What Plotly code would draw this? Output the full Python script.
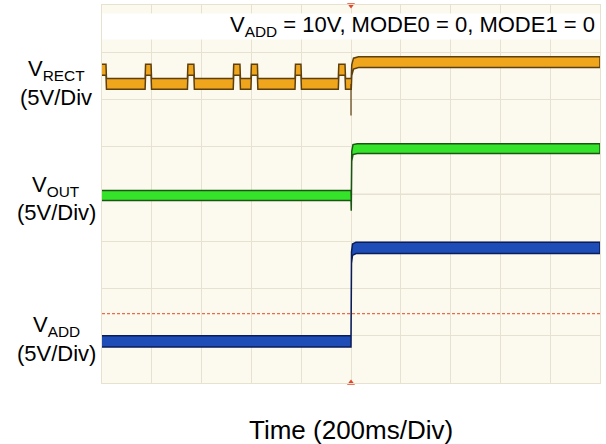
import plotly.graph_objects as go

# ---- data (time in ms at 200 ms/div, levels in screen divisions) ----
t_end = 2000
t_switch = 1000

# V_RECT (orange)
rect_low = 2.33
rect_pulse = 2.63
rect_pulse_start = [0, 173, 343, 527, 598, 775, 949]
rect_pulse_end = [16, 197, 369, 554, 624, 799, 976]
rect_spike_min = 1.66
rect_rise_t = [1001, 1003, 1010, 1030]
rect_rise_v = [2.33, 2.62, 2.76, 2.79]

# V_OUT (green)
out_low = -0.03
out_rise_t = [1000, 1001, 1003, 1008, 1025]
out_rise_v = [-0.03, -0.25, 0.80, 0.94, 0.96]

# V_ADD (blue)
add_low = -3.12
add_rise_t = [1000, 1002, 1006, 1020]
add_rise_v = [-3.12, -1.35, -1.18, -1.14]

trigger_level = -2.53

# ---- build step breakpoints ----
edge = 2
rt, rv = [], []
for s, e in zip(rect_pulse_start, rect_pulse_end):
    if s > 0:
        rt += [s, s + edge]
        rv += [rect_low, rect_pulse]
    else:
        rt += [s]
        rv += [rect_pulse]
    rt += [e, e + edge]
    rv += [rect_pulse, rect_low]
rt += [t_switch] + rect_rise_t + [t_end]
rv += [rect_low] + rect_rise_v + [rect_rise_v[-1]]

ot = [0] + out_rise_t + [t_end]
ov = [out_low] + out_rise_v + [out_rise_v[-1]]

at = [0] + add_rise_t + [t_end]
av = [add_low] + add_rise_v + [add_rise_v[-1]]


def band(t, v, h):
    xs = list(t) + list(t)[::-1]
    ys = [y + h for y in v] + [y - h for y in v][::-1]
    return xs, ys


fig = go.Figure()

grid_c = "#E7E2D0"

for (t, v, fillc, edgec, h) in [
    (rt, rv, "#EFA61C", "#5E3F0E", 0.115),
    (ot, ov, "#35E32B", "#1B5512", 0.105),
    (at, av, "#1E4DB8", "#0A1D58", 0.12),
]:
    xs, ys = band(t, v, h)
    fig.add_trace(go.Scatter(x=xs, y=ys, mode="lines", fill="toself",
                             fillcolor=fillc, line=dict(color=edgec, width=1.5),
                             hoverinfo="skip", showlegend=False))

# spike on V_RECT at switch
fig.add_trace(go.Scatter(x=[t_switch, t_switch], y=[rect_low, rect_spike_min],
                         mode="lines", line=dict(color="#5E3F0E", width=1.2),
                         showlegend=False, hoverinfo="skip"))

# trigger level (dashed)
fig.add_trace(go.Scatter(x=[0, t_end], y=[trigger_level, trigger_level],
                         mode="lines", line=dict(color="#F06A48", width=1.2, dash="3px,2px"),
                         showlegend=False, hoverinfo="skip"))

# trigger position markers
fig.add_trace(go.Scatter(x=[t_switch, t_switch], y=[4, -4], mode="markers",
                         marker=dict(symbol=["triangle-down", "triangle-up"], size=7,
                                     color="#E2452A"),
                         cliponaxis=False, showlegend=False, hoverinfo="skip"))

font = "Liberation Sans, Arial, sans-serif"

fig.update_layout(
    width=606, height=444,
    margin=dict(l=102, r=6, t=5, b=61),
    paper_bgcolor="white",
    plot_bgcolor="#FCF9EE",
    font=dict(family=font, color="black"),
    xaxis=dict(range=[0, t_end], dtick=200, tick0=0, showgrid=True, gridcolor=grid_c,
               gridwidth=1, zeroline=False, showticklabels=False, ticks="",
               showline=True, linecolor=grid_c, mirror=True, fixedrange=True),
    yaxis=dict(range=[-4, 4], dtick=1, tick0=0, showgrid=True, gridcolor=grid_c,
               gridwidth=1, zeroline=False, showticklabels=False, ticks="",
               showline=True, linecolor=grid_c, mirror=True, fixedrange=True),
    xaxis2=dict(overlaying="x", anchor="free", position=0.5, range=[0, t_end],
                dtick=40, tick0=0, ticks="outside", ticklen=3, tickcolor="#D3CDB8",
                showgrid=False, zeroline=False, showticklabels=False, showline=False),
    xaxis3=dict(overlaying="x", anchor="free", position=0.5, range=[0, t_end],
                dtick=40, tick0=0, ticks="inside", ticklen=3, tickcolor="#D3CDB8",
                showgrid=False, zeroline=False, showticklabels=False, showline=False),
    yaxis2=dict(overlaying="y", anchor="free", position=0.5, range=[-4, 4],
                dtick=0.2, tick0=0, ticks="outside", ticklen=3, tickcolor="#D3CDB8",
                showgrid=False, zeroline=False, showticklabels=False, showline=False),
    yaxis3=dict(overlaying="y", anchor="free", position=0.5, range=[-4, 4],
                dtick=0.2, tick0=0, ticks="inside", ticklen=3, tickcolor="#D3CDB8",
                showgrid=False, zeroline=False, showticklabels=False, showline=False),
)

# center horizontal line in grid colour
fig.add_shape(type="line", xref="paper", x0=0, x1=1, yref="y", y0=0, y1=0,
              line=dict(color=grid_c, width=1), layer="below")

# white header box
fig.add_shape(type="rect", xref="paper", x0=0, x1=1, yref="y", y0=3.27, y1=3.82,
              fillcolor="white", line=dict(width=0), layer="above")

fig.add_annotation(text="V<sub>ADD</sub> = 10V, MODE0 = 0, MODE1 = 0",
                   xref="paper", x=0.994, xanchor="right", yref="y", y=3.55,
                   yanchor="middle", showarrow=False, font=dict(size=22, family=font))

labels = [
    ("V<sub>RECT</sub>", 2.63), ("(5V/Div", 2.05),
    ("V<sub>OUT</sub>", 0.18), ("(5V/Div)", -0.40),
    ("V<sub>ADD</sub>", -2.79), ("(5V/Div)", -3.37),
]
for txt, yv in labels:
    fig.add_annotation(text=txt, xref="paper", x=-0.092, xanchor="center",
                       yref="y", y=yv, yanchor="middle", showarrow=False,
                       font=dict(size=22, family=font))

fig.add_annotation(text="Time (200ms/Div)", xref="paper", x=0.5, xanchor="center",
                   yref="paper", y=-0.125, yanchor="middle", showarrow=False,
                   font=dict(size=26, family=font))

fig.write_html("out.html", post_script="document.body.style.margin='0px';",
               config={"displayModeBar": False})
